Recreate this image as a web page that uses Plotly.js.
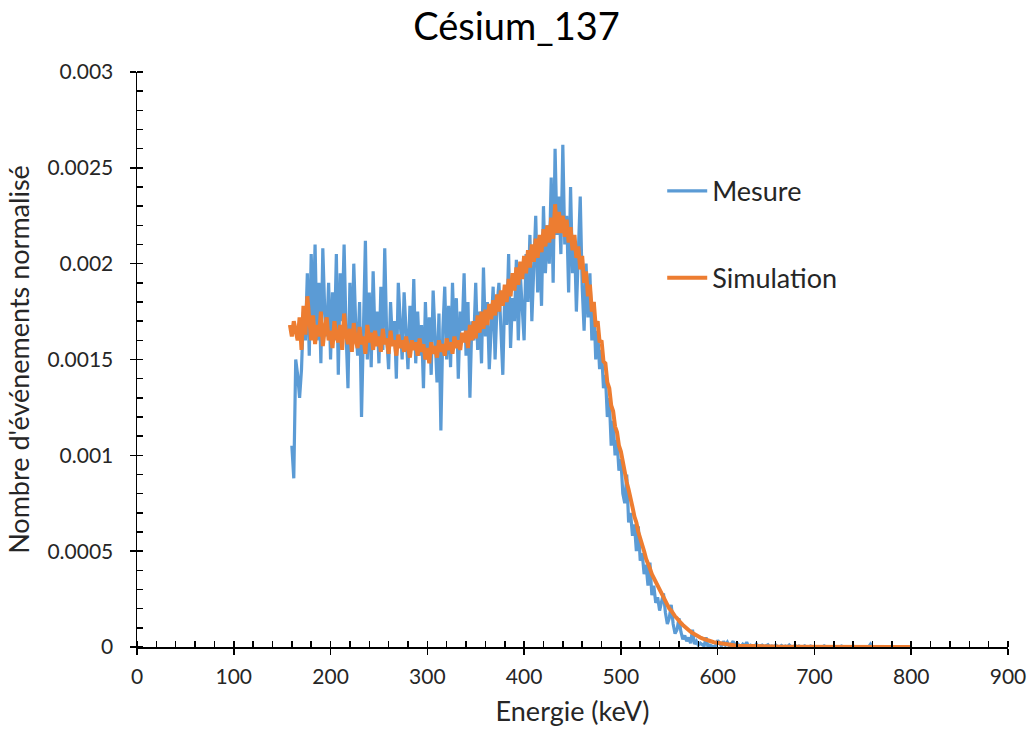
<!DOCTYPE html>
<html>
<head>
<meta charset="utf-8">
<script src="https://cdn.plot.ly/plotly-3.0.1.min.js"></script>
<style>html,body{margin:0;padding:0;background:#fff;}#chart{width:1033px;height:731px;}</style>
</head>
<body>
<div id="chart"></div>
<script>
// Energy grid (keV): channels start at a given energy with a fixed channel width
const mesureStart = 160;      // keV, first channel of the measurement
const simulationStart = 158;  // keV, first channel of the simulation
const channelWidth = 2;       // keV

// Measured counts, normalised, in units of 1e-4
const mesure_e4 = [
10.5,8.8,15.0,14.2,13.0,14.5,17.5,16.0,19.5,15.2,
20.5,17.0,21.0,16.0,19.0,14.8,20.8,17.5,16.2,19.0,
15.0,18.5,16.0,20.5,14.2,19.5,17.0,21.0,16.5,13.5,
19.0,15.5,20.0,16.8,15.2,18.0,12.0,17.0,21.2,15.0,
18.5,14.6,19.6,16.0,17.5,14.8,18.8,15.5,20.8,16.2,
14.5,18.0,15.8,17.0,14.0,19.0,16.5,15.0,18.5,16.0,
14.5,17.8,15.5,19.2,14.8,17.5,15.2,16.8,13.5,18.0,
15.0,17.2,14.2,18.6,16.0,13.8,17.4,11.3,16.5,18.8,
15.0,17.8,14.6,19.0,15.8,18.2,14.0,17.5,16.5,19.5,
15.2,18.0,13.0,17.0,16.0,19.0,15.5,17.5,14.8,19.8,
16.2,18.0,14.5,17.2,18.8,15.0,17.8,19.0,16.0,14.2,
18.5,16.8,20.5,15.6,18.2,17.0,20.2,16.0,19.5,17.5,
16.0,20.5,18.0,21.5,17.0,19.8,22.5,18.5,21.0,17.8,
23.0,19.5,22.0,20.0,24.5,19.0,26.0,21.5,23.5,20.5,
26.2,21.0,22.5,18.5,24.0,19.5,21.5,17.5,21.0,23.5,
18.8,16.5,20.0,17.2,19.5,16.0,18.0,15.0,16.5,14.5,
15.5,13.5,14.2,12.0,13.0,10.5,11.8,10.0,10.8,9.2,
9.8,8.0,7.5,9.0,6.5,7.0,5.8,6.4,5.0,6.3,
4.5,4.9,3.8,4.3,3.2,4.4,2.7,3.2,2.3,2.6,
1.9,2.3,2.8,1.8,1.2,1.5,2.2,1.2,0.7,0.9,
1.5,0.8,0.4,0.6,0.3,0.5,0.2,0.9,0.15,0.3,
0.1,0.2,0.1,0.05,0.5,0.0,0.1,0.05,0.0,0.08,
0.35,0.2,0.05,0.3,0.1,0.25,0.05,0.15,0.3,0.05,
0.2,0.1,0.0,0.15,0.05,0.25,0.0,0.1,0.05,0.0,
0.15,0.0,0.05,0.1,0.0,0.05,0.12,0.0,0.05,0.0,
0.1,0.0,0.0,0.08,0.0,0.05,0.0,0.1,0.0,0.0,
0.08,0.0,0.05,0.0,0.0,0.06,0.0,0.0,0.05,0.0,
0.0,0.04,0.0,0.0,0.0,0.06,0.0,0.0,0.0,0.04,
0.0,0.0,0.0,0.0,0.05,0.0,0.0,0.0,0.0,0.0,
0.05,0.0,0.0,0.0,0.0,0.0,0.0,0.0,0.0,0.15,0.0
];

// Simulated spectrum, normalised, in units of 1e-4
const simulation_e4 = [
16.8,16.2,17.0,16.5,16.0,17.2,15.5,17.8,16.3,18.3,
17.0,16.0,17.3,15.8,16.8,16.2,17.5,15.7,16.6,17.2,
16.0,16.5,15.6,17.0,16.2,15.9,16.8,15.5,17.4,16.3,
15.8,16.6,15.4,16.9,16.0,15.6,16.7,15.8,16.2,15.3,
16.8,15.9,16.4,15.5,16.5,15.7,16.2,15.4,16.6,15.8,
16.1,15.3,16.5,15.7,16.0,15.2,16.3,15.6,16.0,15.4,
16.2,15.6,15.1,16.0,15.5,15.9,15.2,16.1,15.4,15.8,
15.0,15.6,14.8,15.9,15.3,15.7,15.1,16.0,15.4,15.8,
15.2,16.1,15.5,15.9,15.3,16.2,15.6,16.0,15.5,16.4,
15.9,16.5,15.6,16.8,16.0,17.0,16.1,17.3,16.4,17.5,
16.6,17.6,16.8,17.9,17.1,18.1,17.3,18.4,17.5,18.6,
17.8,18.9,18.0,19.2,18.3,19.5,18.6,19.8,18.9,20.1,
19.2,20.4,19.5,20.7,19.8,21.0,20.1,21.3,20.3,21.5,
20.6,21.8,20.9,22.0,21.1,22.4,21.3,23.1,21.6,22.7,
21.6,22.5,21.4,22.3,21.1,21.9,20.7,21.5,20.3,20.9,
19.7,20.4,19.0,19.6,18.3,18.9,17.5,18.0,16.7,17.0,
15.9,16.0,14.9,14.8,13.8,13.5,12.6,12.3,11.5,11.2,
10.5,10.2,9.6,9.2,8.6,8.2,7.6,7.3,6.8,6.5,
6.0,5.7,5.3,5.0,4.6,4.4,4.1,3.8,3.6,3.3,
3.1,2.9,2.7,2.5,2.3,2.2,2.0,1.9,1.7,1.6,
1.5,1.35,1.25,1.15,1.05,0.95,0.88,0.8,0.73,0.66,
0.6,0.55,0.5,0.45,0.41,0.37,0.34,0.31,0.28,0.25,
0.23,0.21,0.19,0.17,0.15,0.14,0.12,0.11,0.1,0.09,
0.08,0.07,0.065,0.06,0.055,0.05,0.045,0.04,0.037,0.034,
0.03,0.028,0.025,0.023,0.021,0.019,0.017,0.016,0.015,0.014,
0.013,0.012,0.012,0.011,0.01,0.01,0.009,0.009,0.008,0.008,
0.007,0.007,0.007,0.006,0.006,0.006,0.005,0.005,0.005,0.005,
0.004,0.004,0.004,0.004,0.004,0.003,0.003,0.003,0.003,0.003,
0.003,0.003,0.002,0.002,0.002,0.002,0.002,0.002,0.002,0.002,
0.002,0.002,0.002,0.001,0.001,0.001,0.001,0.001,0.001,0.001,
0.001,0.001,0.001,0.001,0.001,0.001,0.001,0.001,0.001,0.001,
0.001,0.001,0.001,0.001,0.001,0.001,0.001,0.001,0.001,0.001,
0.001,0.001
];

const chartTitle = 'Césium_137';
const xTitle = 'Energie (keV)';
const yTitle = "Nombre d'événements normalisé";
const seriesNames = ['Mesure', 'Simulation'];
const seriesColors = ['#5B9BD5', '#ED7D31'];

const energies = (start, n) => Array.from({length: n}, (_, i) => start + i * channelWidth);
const xMes = energies(mesureStart, mesure_e4.length);
const yMes = mesure_e4.map(v => v * 1e-4);
const xSim = energies(simulationStart, simulation_e4.length);
const ySim = simulation_e4.map(v => v * 1e-4);

const FONT = 'Lato, "Open Sans", sans-serif';
const TXT = '#262626';

const traces = [
  {x: xMes, y: yMes, type: 'scatter', mode: 'lines', name: seriesNames[0],
   line: {color: seriesColors[0], width: 3.2}, legend: 'legend'},
  {x: xSim, y: ySim, type: 'scatter', mode: 'lines', name: seriesNames[1],
   line: {color: seriesColors[1], width: 4}, legend: 'legend2'}
];

const axisCommon = {
  showgrid: false, zeroline: false, showline: true,
  linecolor: '#000', linewidth: 1.5,
  tickcolor: '#000', tickwidth: 1.5, ticklen: 6,
  tickfont: {family: FONT, size: 21, color: TXT}
};

const layout = {
  width: 1033, height: 731,
  paper_bgcolor: '#fff', plot_bgcolor: '#fff',
  margin: {l: 137, r: 25, t: 72, b: 84},
  title: {text: chartTitle, font: {family: FONT, size: 38, color: '#000'},
          x: 0.5, xanchor: 'center', y: 0.963, yanchor: 'middle'},
  showlegend: true,
  xaxis: Object.assign({}, axisCommon, {
    range: [0, 900], dtick: 100, tick0: 0, ticks: 'outside',
    ticklabelstandoff: 4,
    minor: {dtick: 20, ticks: 'inside', ticklen: 6, tickcolor: '#000', tickwidth: 1.5, showgrid: false},
    title: {text: xTitle, font: {family: FONT, size: 27, color: TXT}, standoff: 15}
  }),
  yaxis: Object.assign({}, axisCommon, {
    range: [0, 0.003], dtick: 0.0005, tick0: 0, ticks: 'outside',
    tickformat: '~g', ticklabelstandoff: 12,
    minor: {dtick: 0.0001, ticks: 'inside', ticklen: 6, tickcolor: '#000', tickwidth: 1.5, showgrid: false},
    title: {text: yTitle, font: {family: FONT, size: 27, color: TXT}, standoff: 10}
  }),
  xaxis2: {overlaying: 'x', anchor: 'y', side: 'bottom', range: [0, 900], dtick: 100, tick0: 0,
           ticks: 'inside', ticklen: 6, tickwidth: 1.5, tickcolor: '#000',
           showticklabels: false, showgrid: false, zeroline: false, showline: false},
  yaxis2: {overlaying: 'y', anchor: 'x', side: 'left', range: [0, 0.003], dtick: 0.0005, tick0: 0,
           ticks: 'inside', ticklen: 6, tickwidth: 1.5, tickcolor: '#000',
           showticklabels: false, showgrid: false, zeroline: false, showline: false},
  legend: {x: 0.603, y: 0.835, xanchor: 'left', yanchor: 'top', bgcolor: 'rgba(0,0,0,0)',
           font: {family: FONT, size: 27, color: TXT}, itemwidth: 40},
  legend2: {x: 0.603, y: 0.684, xanchor: 'left', yanchor: 'top', bgcolor: 'rgba(0,0,0,0)',
           font: {family: FONT, size: 27, color: TXT}, itemwidth: 40}
};

Plotly.newPlot('chart', traces, layout, {displayModeBar: false, staticPlot: true});
</script>
</body>
</html>
